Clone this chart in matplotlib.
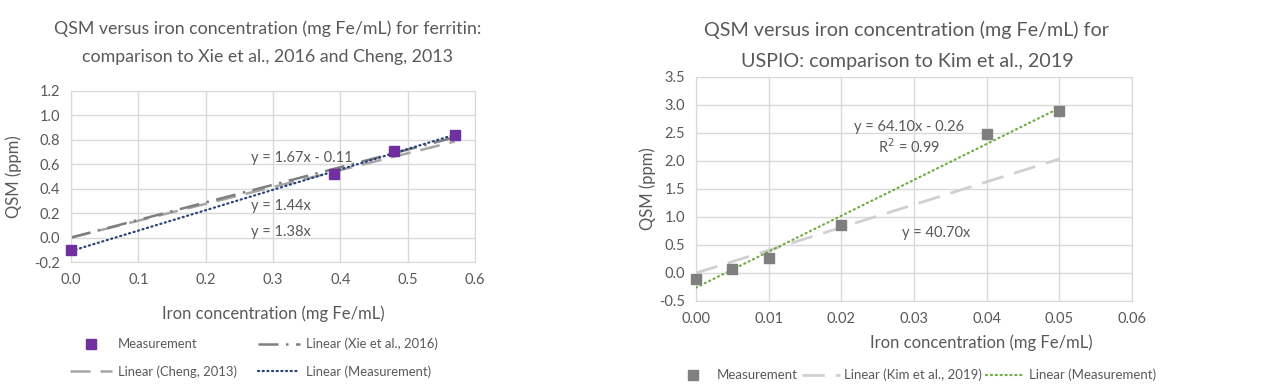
import matplotlib
matplotlib.use("Agg")
import matplotlib.pyplot as plt
import numpy as np

plt.rcParams['font.family'] = ['Lato', 'DejaVu Sans']

# ferritin data
fer_x = [0.0, 0.39, 0.48, 0.57]
fer_y = [-0.1, 0.52, 0.71, 0.84]
fer_fit = (1.67, -0.11)
xie_slope = 1.44
cheng_slope = 1.38
fer_xticks = [0.0, 0.1, 0.2, 0.3, 0.4, 0.5, 0.6]
fer_yticks = [-0.2, 0.0, 0.2, 0.4, 0.6, 0.8, 1.0, 1.2]

# USPIO data
usp_x = [0.0, 0.005, 0.01, 0.02, 0.04, 0.05]
usp_y = [-0.1, 0.08, 0.26, 0.85, 2.48, 2.9]
usp_fit = (64.10, -0.26)
kim_slope = 40.70
usp_xticks = [0.0, 0.01, 0.02, 0.03, 0.04, 0.05, 0.06]
usp_yticks = [-0.5, 0.0, 0.5, 1.0, 1.5, 2.0, 2.5, 3.0, 3.5]

txt = '#595959'
grid = '#D9D9D9'
W, H = 1280, 391

fig = plt.figure(figsize=(12.8, 3.91), dpi=100)


def style_axes(ax, xt, yt, xfmt, yfmt):
    ax.set_xticks(xt)
    ax.set_yticks(yt)
    ax.set_xlim(xt[0], xt[-1])
    ax.set_ylim(yt[0], yt[-1])
    ax.set_xticklabels([xfmt.format(v) for v in xt])
    ax.set_yticklabels([yfmt.format(v) for v in yt])
    ax.tick_params(length=0, labelsize=10.5, colors=txt, pad=8)
    ax.grid(True, color=grid, linewidth=1, zorder=0)
    for s in ax.spines.values():
        s.set_color(grid)
    ax.set_axisbelow(True)


# ===== Left: ferritin =====
ax1 = fig.add_axes([71 / W, 1 - 262 / H, 404 / W, 171 / H])
style_axes(ax1, fer_xticks, fer_yticks, '{:.1f}', '{:.1f}')

xr = np.array([0.0, max(fer_x)])
l_cheng, = ax1.plot(xr, cheng_slope * xr, color='#A5A5A5', lw=1.8,
                    dashes=(8, 4), label='Linear (Cheng, 2013)', zorder=2)
l_xie, = ax1.plot(xr, xie_slope * xr, color='#7F7F7F', lw=1.8,
                  dashes=(8, 3, 1, 3), label='Linear (Xie et al., 2016)', zorder=2)
xf = np.array([min(fer_x), max(fer_x)])
l_fit, = ax1.plot(xf, fer_fit[0] * xf + fer_fit[1], color='#264478', lw=1.6,
                  linestyle=(0, (0.5, 1.6)), dash_capstyle='round',
                  label='Linear (Measurement)', zorder=3)
m1, = ax1.plot(fer_x, fer_y, 's', color='#7030A0', ms=7.5, linestyle='none',
               label='Measurement', zorder=4, clip_on=False)

ax1.text(0.267, 0.65, 'y = 1.67x - 0.11', fontsize=10.5, color=txt, va='center')
ax1.text(0.268, 0.258, 'y = 1.44x', fontsize=10.5, color=txt, va='center')
ax1.text(0.268, 0.046, 'y = 1.38x', fontsize=10.5, color=txt, va='center')

ax1.set_xlabel('Iron concentration (mg Fe/mL)', fontsize=12, color=txt, labelpad=13)
ax1.set_ylabel('QSM (ppm)', fontsize=12, color=txt, labelpad=9)
fig.text(268 / W, 1 - 29 / H, 'QSM versus iron concentration (mg Fe/mL) for ferritin:',
         ha='center', va='center', fontsize=12.8, color=txt)
fig.text(268 / W, 1 - 57 / H, 'comparison to Xie et al., 2016 and Cheng, 2013',
         ha='center', va='center', fontsize=12.8, color=txt)

fig.legend(handles=[m1, l_cheng, l_xie, l_fit], ncol=2, frameon=False,
           loc='center', bbox_to_anchor=(254 / W, 1 - 358 / H), fontsize=9.4,
           labelcolor=txt, handlelength=3.2, columnspacing=1.6, handletextpad=0.45,
           labelspacing=1.15)

# ===== Right: USPIO =====
ax2 = fig.add_axes([696 / W, 1 - 301 / H, 436 / W, 224 / H])
style_axes(ax2, usp_xticks, usp_yticks, '{:.2f}', '{:.1f}')

xk = np.array([0.0, max(usp_x)])
l_kim, = ax2.plot(xk, kim_slope * xk, color='#D0D0D0', lw=2.0, dashes=(8, 4),
                  label='Linear (Kim et al., 2019)', zorder=2)
l_fit2, = ax2.plot(xk, usp_fit[0] * xk + usp_fit[1], color='#70AD47', lw=1.6,
                   linestyle=(0, (0.5, 1.7)), dash_capstyle='round',
                   label='Linear (Measurement)', zorder=3)
m2, = ax2.plot(usp_x, usp_y, 's', color='#7F7F7F', ms=6.5, linestyle='none',
               label='Measurement', zorder=4, clip_on=False)

ax2.text(0.0293, 2.61, 'y = 64.10x - 0.26', fontsize=10.5, color=txt, ha='center', va='center')
ax2.text(0.0293, 2.25, 'R$^2$ = 0.99', fontsize=10.5, color=txt, ha='center', va='center')
ax2.text(0.033, 0.714, 'y = 40.70x', fontsize=10.5, color=txt, ha='center', va='center')

ax2.set_ylabel('QSM (ppm)', fontsize=12, color=txt, labelpad=2)
fig.text(981 / W, 1 - 343 / H, 'Iron concentration (mg Fe/mL)', fontsize=12,
         color=txt, ha='center', va='center')
fig.text(907 / W, 1 - 30 / H, 'QSM versus iron concentration (mg Fe/mL) for',
         ha='center', va='center', fontsize=14.2, color=txt)
fig.text(907 / W, 1 - 62 / H, 'USPIO: comparison to Kim et al., 2019',
         ha='center', va='center', fontsize=14.2, color=txt)

fig.legend(handles=[m2, l_kim, l_fit2], ncol=3, frameon=False,
           loc='center', bbox_to_anchor=(915 / W, 1 - 375 / H), fontsize=9.5,
           labelcolor=txt, handlelength=2.9, columnspacing=0.3, handletextpad=0.35)

fig.savefig('out.png', dpi=100, facecolor='white')
